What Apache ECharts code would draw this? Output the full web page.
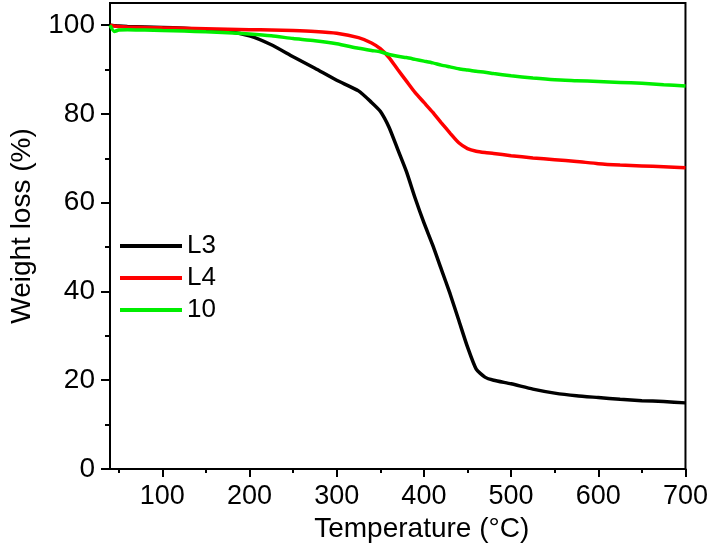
<!DOCTYPE html>
<html>
<head>
<meta charset="utf-8">
<title>TGA</title>
<script src="https://cdn.jsdelivr.net/npm/echarts@6/dist/echarts.min.js"></script>
<style>
  html, body { margin: 0; padding: 0; background: #fff; }
  #chart { width: 711px; height: 550px; }
</style>
</head>
<body>
<div id="chart"></div>
<script>
// temperature (°C)
var temps = [40, 45, 50, 60, 80, 100, 125, 150, 175, 200, 225, 250, 275, 300, 325, 340, 350, 360, 370, 380,
             390, 400, 410, 420, 430, 440, 450, 460, 470, 480, 500, 525, 550, 575, 600, 625, 650, 675, 700];
// weight (%)
var l3 = [100, 99.9, 99.8, 99.7, 99.6, 99.5, 99.3, 99.0, 98.6, 97.6, 95.6, 92.9, 90.3, 87.6, 85.2, 82.6, 80.6, 77.0, 72.0, 67.0,
          61.0, 55.5, 50.5, 45.0, 39.5, 33.5, 27.5, 22.5, 20.7, 20.0, 19.2, 18.0, 17.1, 16.5, 16.1, 15.7, 15.4, 15.2, 14.9];
var l4 = [100, 99.8, 99.7, 99.6, 99.5, 99.4, 99.3, 99.2, 99.1, 99.0, 98.9, 98.8, 98.6, 98.2, 97.2, 96.0, 94.7, 92.7, 90.0, 87.4,
          84.8, 82.6, 80.4, 78.0, 75.7, 73.5, 72.2, 71.6, 71.3, 71.1, 70.6, 70.1, 69.7, 69.3, 68.8, 68.5, 68.3, 68.1, 67.9];
var c10 = [100, 98.6, 98.9, 99.0, 98.9, 98.8, 98.7, 98.5, 98.3, 98.0, 97.6, 97.0, 96.5, 95.8, 94.8, 94.3, 94.0, 93.4, 93.0, 92.7,
           92.3, 91.9, 91.5, 91.0, 90.6, 90.2, 89.9, 89.6, 89.4, 89.1, 88.6, 88.1, 87.7, 87.5, 87.3, 87.1, 86.9, 86.6, 86.3];

var xTicks = [100, 200, 300, 400, 500, 600, 700];
var xMinor = [50, 150, 250, 350, 450, 550, 650];
var yTicks = [0, 20, 40, 60, 80, 100];
var yMinor = [10, 30, 50, 70, 90];

function pairs(ys) {
    var out = [];
    for (var i = 0; i < temps.length; i++) {
        out.push([temps[i], ys[i]]);
    }
    return out;
}

var font = 'Liberation Sans, Arial, sans-serif';

function line(name, data, color) {
    return {
        name: name,
        type: 'line',
        symbol: 'none',
        smooth: 0.2,
        xAxisIndex: 0,
        yAxisIndex: 0,
        lineStyle: { color: color, width: 3.5 },
        itemStyle: { color: color },
        data: pairs(data)
    };
}

var chart = echarts.init(document.getElementById('chart'), null, { renderer: 'canvas' });
chart.setOption({
    animation: false,
    textStyle: { fontFamily: font },
    grid: {
        left: 105, right: 25, top: 3, bottom: 81,
        show: true,
        borderColor: '#000',
        borderWidth: 2
    },
    legend: {
        left: 115,
        top: 228,
        orient: 'vertical',
        icon: 'rect',
        itemWidth: 62,
        itemHeight: 4,
        itemGap: 6,
        textStyle: { fontSize: 26, color: '#000', fontFamily: font },
        data: ['L3', 'L4', '10']
    },
    xAxis: [
        {
            type: 'value',
            min: 40,
            max: 700,
            name: 'Temperature (°C)',
            nameLocation: 'middle',
            nameGap: 45,
            nameTextStyle: { fontSize: 28, color: '#000', fontFamily: font, padding: [0, 0, 0, 48] },
            splitLine: { show: false },
            axisLine: { onZero: false, lineStyle: { color: '#000', width: 2 } },
            axisTick: { customValues: xTicks, length: 8, lineStyle: { color: '#000', width: 2 } },
            axisLabel: { customValues: xTicks, fontSize: 27, color: '#000', margin: 14, fontFamily: font }
        },
        {
            type: 'value',
            min: 40,
            max: 700,
            position: 'bottom',
            splitLine: { show: false },
            axisLine: { show: false },
            axisTick: { customValues: xMinor, length: 4, lineStyle: { color: '#000', width: 2 } },
            axisLabel: { show: false }
        }
    ],
    yAxis: [
        {
            type: 'value',
            min: 0,
            max: 105,
            name: 'Weight loss (%)',
            nameLocation: 'middle',
            nameGap: 74,
            nameTextStyle: { fontSize: 28, color: '#000', fontFamily: font, padding: [0, 0, 0, 20] },
            splitLine: { show: false },
            axisLine: { onZero: false, lineStyle: { color: '#000', width: 2 } },
            axisTick: { customValues: yTicks, length: 9, lineStyle: { color: '#000', width: 2 } },
            axisLabel: { customValues: yTicks, fontSize: 28, color: '#000', margin: 15, fontFamily: font }
        },
        {
            type: 'value',
            min: 0,
            max: 105,
            position: 'left',
            splitLine: { show: false },
            axisLine: { show: false },
            axisTick: { customValues: yMinor, length: 5, lineStyle: { color: '#000', width: 2 } },
            axisLabel: { show: false }
        }
    ],
    series: [
        line('L3', l3, '#000000'),
        line('L4', l4, '#ff0000'),
        line('10', c10, '#00ee00')
    ]
});
</script>
</body>
</html>
